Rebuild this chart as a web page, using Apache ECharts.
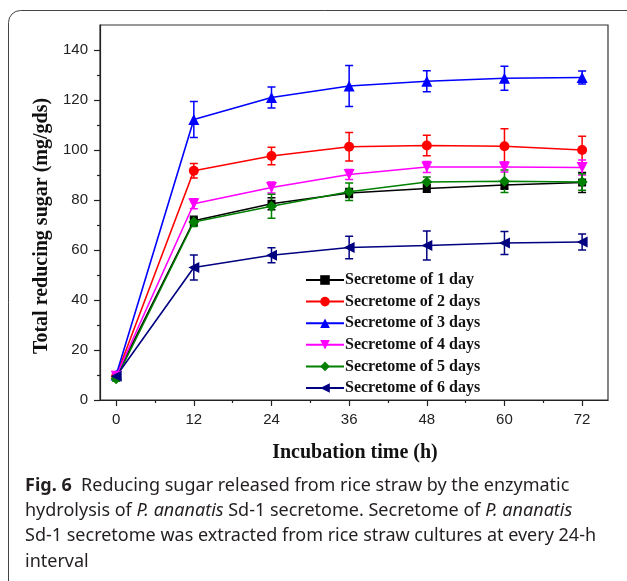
<!DOCTYPE html>
<html><head><meta charset="utf-8">
<script src="https://cdn.jsdelivr.net/npm/echarts@6/dist/echarts.min.js"></script>
<style>html,body{margin:0;padding:0;background:#fff}#c{width:627px;height:581px}</style>
</head><body><div id="c"></div>
<script>
const hours = [0, 12, 24, 36, 48, 60, 72];
const names = ['Secretome of 1 day','Secretome of 2 days','Secretome of 3 days','Secretome of 4 days','Secretome of 5 days','Secretome of 6 days'];
const colors = ['#000000','#ff0000','#0000ff','#ff00ff','#008000','#000080'];
const symbols = ['rect','circle','triangle','triangle','diamond','triangle'];
const rotations = [0,0,0,180,0,90];
const day1 = [9.5, 71.7, 78.5, 82.8, 84.6, 86.0, 87.0];
const day1Err = [1, 1.8, 2.4, 1.8, 1.5, 1.7, 4.0];
const day2 = [9.5, 91.7, 97.6, 101.3, 101.8, 101.5, 100.0];
const day2Err = [1, 2.9, 3.5, 5.7, 4.1, 7.0, 5.5];
const day3 = [10.0, 112.2, 121.0, 125.6, 127.5, 128.7, 129.0];
const day3Err = [1, 7.2, 4.2, 8.2, 4.2, 4.8, 2.6];
const day4 = [9.5, 78.5, 85.0, 90.2, 93.2, 93.2, 93.0];
const day4Err = [1, 2.0, 2.2, 2.0, 2.2, 2.0, 3.0];
const day5 = [8.5, 71.2, 77.5, 83.3, 87.2, 87.5, 87.2];
const day5Err = [1, 1.8, 4.8, 3.5, 2.0, 4.5, 3.3];
const day6 = [9.5, 53.0, 57.9, 61.0, 61.8, 62.8, 63.2];
const day6Err = [1, 5.0, 3.0, 4.5, 5.8, 4.6, 3.2];
const yTicks = [0, 20, 40, 60, 80, 100, 120, 140];
const yMinor = [10, 30, 50, 70, 90, 110, 130];
const xMinor = [6, 18, 30, 42, 54, 66];

const values = [day1, day2, day3, day4, day5, day6];
const errs = [day1Err, day2Err, day3Err, day4Err, day5Err, day6Err];

const chart = echarts.init(document.getElementById('c'));
const series = [];
values.forEach((v, i) => {
  series.push({
    name: names[i], type: 'line',
    data: hours.map((h, j) => [h, v[j]]),
    symbol: symbols[i], symbolRotate: rotations[i], symbolSize: symbols[i]==='rect'?8:(symbols[i]==='circle'?10:11),
    lineStyle: {color: colors[i], width: 1.6},
    itemStyle: {color: colors[i]},
    z: 3
  });
});
values.forEach((v, i) => {
  series.push({
    name: 'err' + i, type: 'custom',
    data: hours.map((h, j) => [h, v[j] - errs[i][j], v[j] + errs[i][j]]),
    renderItem: function (params, api) {
      const lo = api.coord([api.value(0), api.value(1)]);
      const hi = api.coord([api.value(0), api.value(2)]);
      const w = 4;
      const st = {stroke: colors[i], lineWidth: 1.5};
      return {type: 'group', children: [
        {type: 'line', shape: {x1: lo[0], y1: lo[1], x2: hi[0], y2: hi[1]}, style: st},
        {type: 'line', shape: {x1: lo[0]-w, y1: lo[1], x2: lo[0]+w, y2: lo[1]}, style: st},
        {type: 'line', shape: {x1: hi[0]-w, y1: hi[1], x2: hi[0]+w, y2: hi[1]}, style: st}
      ]};
    },
    z: 2
  });
});

const axisColor = '#222';
chart.setOption({
  animation: false,
  grid: {left: 100, right: 19, top: 25, bottom: 181, show: true, borderColor: '#333', borderWidth: 1.2},
  legend: {
    data: names, orient: 'vertical', left: 300, top: 267,
    itemWidth: 38, itemHeight: 12, itemGap: 5.6,
    textStyle: {fontFamily: 'Liberation Serif', fontWeight: 'bold', fontSize: 16, color: '#111', padding: [0,0,0,-4]}
  },
  xAxis: [{
    type: 'value', min: -2.5, max: 76,
    axisLine: {onZero: false, lineStyle: {color: axisColor, width: 1.2}},
    axisTick: {customValues: hours, length: 6, lineStyle: {color: axisColor, width: 1.2}},
    axisLabel: {customValues: hours, fontFamily: 'Liberation Sans', fontSize: 15, color: '#222', margin: 12},
    splitLine: {show: false}
  }, {
    type: 'value', min: -2.5, max: 76, position: 'bottom', gridIndex: 0,
    axisLine: {show: false, onZero: false},
    axisTick: {customValues: xMinor, length: 3, lineStyle: {color: axisColor, width: 1.2}},
    axisLabel: {show: false}, splitLine: {show: false}
  }],
  yAxis: [{
    type: 'value', min: 0, max: 150,
    axisLine: {show: true, onZero: false, lineStyle: {color: axisColor, width: 1.2}},
    axisTick: {show: true, customValues: yTicks, length: 6, lineStyle: {color: axisColor, width: 1.2}},
    axisLabel: {customValues: yTicks, fontFamily: 'Liberation Sans', fontSize: 15, color: '#222', margin: 12},
    splitLine: {show: false}
  }, {
    type: 'value', min: 0, max: 150, position: 'left', offset: 0,
    axisLine: {show: false, onZero: false},
    axisTick: {show: true, customValues: yMinor, length: 3, lineStyle: {color: axisColor, width: 1.2}},
    axisLabel: {show: false}, splitLine: {show: false}
  }],
  graphic: [
    {type: 'rect', shape: {x: 8.5, y: 10.5, width: 660, height: 620, r: 12}, style: {fill: 'none', stroke: '#444', lineWidth: 1}, silent: true, z: -1},
    {type: 'text', x: 42, y: 226, rotation: Math.PI / 2, style: {
      text: 'Total reducing sugar (mg/gds)', fontFamily: 'Liberation Serif', fontWeight: 'bold', fontSize: 20,
      fill: '#111', align: 'center', verticalAlign: 'middle'}},
    {type: 'text', x: 355, y: 453, style: {
      text: 'Incubation time (h)', fontFamily: 'Liberation Serif', fontWeight: 'bold', fontSize: 20,
      fill: '#111', align: 'center', verticalAlign: 'middle'}},
    {type: 'text', left: 25, top: 473, style: {
      text: '{b|Fig. 6}  Reducing sugar released from rice straw by the enzymatic\nhydrolysis of {i|P. ananatis} Sd-1 secretome. Secretome of {i|P. ananatis}\nSd-1 secretome was extracted from rice straw cultures at every 24-h\ninterval',
      fontFamily: 'Noto Sans', fontSize: 18, lineHeight: 25.3, fill: '#231f20',
      rich: {
        b: {fontFamily: 'Noto Sans', fontWeight: 'bold', fontSize: 18, fill: '#231f20', lineHeight: 25.3},
        i: {fontFamily: 'Noto Sans', fontStyle: 'italic', fontSize: 18, fill: '#231f20', lineHeight: 25.3}
      }
    }}
  ],
  series: series
});
</script></body></html>
